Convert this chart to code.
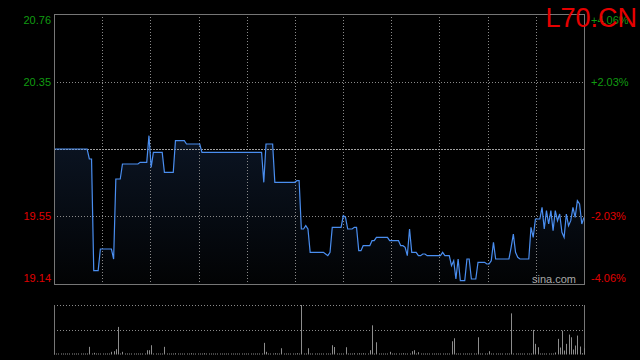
<!DOCTYPE html>
<html>
<head>
<meta charset="utf-8">
<script src="https://cdn.jsdelivr.net/npm/d3@7"></script>
<style>
  html, body { margin: 0; padding: 0; background: #000; }
  svg { display: block; font-family: Arial, "Liberation Sans", sans-serif; }
</style>
</head>
<body>
<div id="chart"></div>
<script>
/* intraday minute chart: price line + volume bars */
const symbol = "L70.CN";
const prevClose = 19.95;
const priceTicks = [20.76, 20.35, 19.55, 19.14];
const pctTicks = ["+4.06%", "+2.03%", "-2.03%", "-4.06%"];

const prices = [
  19.95,19.95,19.95,19.95,19.95,19.95,19.95,19.95,19.95,19.95,
  19.95,19.95,19.95,19.95,19.95,19.95,19.89,19.89,19.22,19.22,
  19.22,19.35,19.35,19.35,19.35,19.35,19.35,19.29,19.77,19.77,
  19.77,19.86,19.86,19.86,19.86,19.86,19.86,19.86,19.86,19.87,
  19.87,19.87,19.87,20.03,19.84,19.93,19.93,19.93,19.93,19.93,
  19.81,19.81,19.81,19.81,19.81,20.00,20.00,20.00,20.00,20.00,
  19.98,19.98,19.98,19.98,19.98,19.98,19.98,19.93,19.93,19.93,
  19.93,19.93,19.93,19.93,19.93,19.93,19.93,19.93,19.93,19.93,
  19.93,19.93,19.93,19.93,19.93,19.93,19.93,19.93,19.93,19.93,
  19.93,19.93,19.93,19.93,19.93,19.75,19.98,19.98,19.98,19.98,
  19.75,19.75,19.75,19.75,19.75,19.75,19.75,19.75,19.75,19.75,
  19.76,19.76,19.47,19.47,19.49,19.47,19.33,19.33,19.33,19.33,
  19.33,19.33,19.33,19.32,19.31,19.33,19.48,19.48,19.48,19.48,
  19.48,19.55,19.54,19.47,19.47,19.47,19.48,19.48,19.34,19.34,
  19.37,19.37,19.37,19.37,19.40,19.40,19.42,19.42,19.42,19.42,
  19.42,19.42,19.40,19.40,19.40,19.40,19.40,19.37,19.37,19.36,
  19.31,19.47,19.33,19.33,19.33,19.31,19.31,19.32,19.32,19.31,
  19.31,19.31,19.31,19.31,19.31,19.31,19.33,19.31,19.31,19.31,
  19.25,19.28,19.17,19.29,19.16,19.16,19.16,19.29,19.29,19.17,
  19.17,19.17,19.27,19.27,19.27,19.27,19.26,19.26,19.28,19.39,
  19.29,19.29,19.29,19.29,19.29,19.29,19.29,19.36,19.44,19.33,
  19.30,19.29,19.29,19.29,19.29,19.29,19.48,19.42,19.53,19.53,
  19.53,19.60,19.47,19.58,19.50,19.58,19.46,19.58,19.52,19.56,
  19.45,19.42,19.56,19.49,19.52,19.60,19.54,19.64,19.62,19.50,
  19.54
];

const volumes = [
  100,100,100,100,100,100,100,100,100,100,
  100,100,100,100,100,100,770,100,170,100,
  100,100,100,100,100,100,270,330,530,2770,
  100,270,100,100,100,100,100,100,100,100,
  100,100,430,430,930,100,100,100,100,100,
  770,100,100,100,100,130,100,100,100,100,
  100,100,130,100,100,100,100,100,130,100,
  100,100,100,100,100,100,100,100,100,100,
  100,100,100,100,100,100,100,100,100,100,
  100,100,100,100,100,1170,270,100,100,100,
  130,100,100,630,100,100,100,100,100,100,
  130,100,4970,100,100,630,100,100,100,100,
  100,100,100,100,100,100,930,750,100,100,
  100,100,730,100,100,100,130,100,130,100,
  130,100,100,430,2930,100,1230,100,100,100,
  100,100,270,100,100,100,100,100,130,100,
  100,100,330,430,100,230,100,100,100,100,
  100,100,100,100,100,100,100,100,100,100,
  1330,1630,100,100,100,100,100,100,100,100,
  100,100,1730,100,100,100,100,330,100,100,
  100,100,100,100,100,100,100,4130,100,100,
  100,100,100,100,100,100,100,2470,1070,730,
  100,100,100,100,100,100,100,200,1570,700,
  2400,400,1070,2000,1730,500,900,1900,800,130,
  630
];

const d3s = d3, W = 640, H = 360;
const m = { l: 54, r: 584, t: 14, b: 284 };
const v = { t: 305, b: 354.5 };
const svg = d3s.select("#chart").append("svg").attr("width", W).attr("height", H);

const x = d3s.scaleLinear().domain([0, prices.length - 1]).range([m.l, m.r]);
const y = d3s.scaleLinear().domain([priceTicks[3], priceTicks[0]]).range([m.b, m.t]);
const yv = d3s.scaleLinear().domain([0, d3s.max(volumes)]).range([v.b, v.t]);
const gx = d3s.scaleLinear().domain([0, 11]).range([m.l, m.r]);

const grid = "#8a8a8a", frame = "#767676";
const green = "#119b11", red = "#e00000";

// area gradient
const grad = svg.append("defs").append("linearGradient").attr("id", "fillGrad")
  .attr("gradientUnits", "userSpaceOnUse").attr("x1", 0).attr("y1", m.t).attr("x2", 0).attr("y2", m.b);
grad.append("stop").attr("offset", "0%").attr("stop-color", "#13233d");
grad.append("stop").attr("offset", "100%").attr("stop-color", "#020304");

svg.append("path").datum(prices)
  .attr("fill", "url(#fillGrad)")
  .attr("d", d3s.area().x((d, i) => x(i)).y0(m.b).y1(d => y(d)));

// grid
svg.append("g").selectAll("line").data(d3s.range(1, 11)).join("line")
  .attr("x1", d => Math.round(gx(d)) + 0.5).attr("x2", d => Math.round(gx(d)) + 0.5)
  .attr("y1", m.t).attr("y2", m.b)
  .attr("stroke", grid).attr("stroke-dasharray", "1,2");
svg.append("g").selectAll("line").data([priceTicks[1], priceTicks[2]]).join("line")
  .attr("x1", m.l).attr("x2", m.r)
  .attr("y1", d => Math.round(y(d)) + 0.5).attr("y2", d => Math.round(y(d)) + 0.5)
  .attr("stroke", grid).attr("stroke-dasharray", "1,2");
svg.append("line")
  .attr("x1", m.l).attr("x2", m.r)
  .attr("y1", Math.round(y(prevClose)) + 0.5).attr("y2", Math.round(y(prevClose)) + 0.5)
  .attr("stroke", "#a0a0a0").attr("stroke-dasharray", "2,1");

// price line
svg.append("path").datum(prices)
  .attr("fill", "none").attr("stroke", "#4a8ef0").attr("stroke-width", 1.2)
  .attr("d", d3s.line().x((d, i) => x(i)).y(d => y(d)));

// frame
svg.append("rect").attr("x", m.l + 0.5).attr("y", m.t + 0.5)
  .attr("width", m.r - m.l).attr("height", m.b - m.t)
  .attr("fill", "none").attr("stroke", frame);

// axis labels
const yPos = (d, i) => y(d) + (i === 0 ? 6 : i === 3 ? -6 : 0);
svg.append("g").selectAll("text").data(priceTicks).join("text")
  .attr("x", m.l - 3).attr("y", yPos).attr("dy", "0.35em")
  .attr("text-anchor", "end").attr("font-size", 11)
  .attr("fill", d => d > prevClose ? green : red).text(d => d.toFixed(2));
svg.append("g").selectAll("text").data(pctTicks).join("text")
  .attr("x", m.r + 7).attr("y", (d, i) => yPos(priceTicks[i], i)).attr("dy", "0.35em")
  .attr("font-size", 11)
  .attr("fill", d => d[0] === "+" ? green : red).text(d => d);

svg.append("text").attr("x", 532).attr("y", 283)
  .attr("font-size", 11).attr("fill", "#a8a8a8").text("sina.com");

// volume panel
svg.append("g").selectAll("line").data([v.t, (v.t + v.b) / 2]).join("line")
  .attr("x1", m.l).attr("x2", m.r)
  .attr("y1", d => Math.round(d) + 0.5).attr("y2", d => Math.round(d) + 0.5)
  .attr("stroke", grid).attr("stroke-dasharray", "1,2");
svg.append("g").selectAll("line").data([m.l, m.r]).join("line")
  .attr("x1", d => d + 0.5).attr("x2", d => d + 0.5)
  .attr("y1", v.t).attr("y2", v.b)
  .attr("stroke", frame);
svg.append("g").selectAll("rect").data(volumes).join("rect")
  .attr("x", (d, i) => Math.round(x(i)))
  .attr("y", d => yv(d))
  .attr("width", 1)
  .attr("height", d => v.b - yv(d))
  .attr("fill", "#8c8c8c");

// title
svg.append("text").attr("x", 637).attr("y", 27)
  .attr("text-anchor", "end").attr("font-size", 27)
  .attr("fill", "#e60000").text(symbol);
</script>
</body>
</html>
